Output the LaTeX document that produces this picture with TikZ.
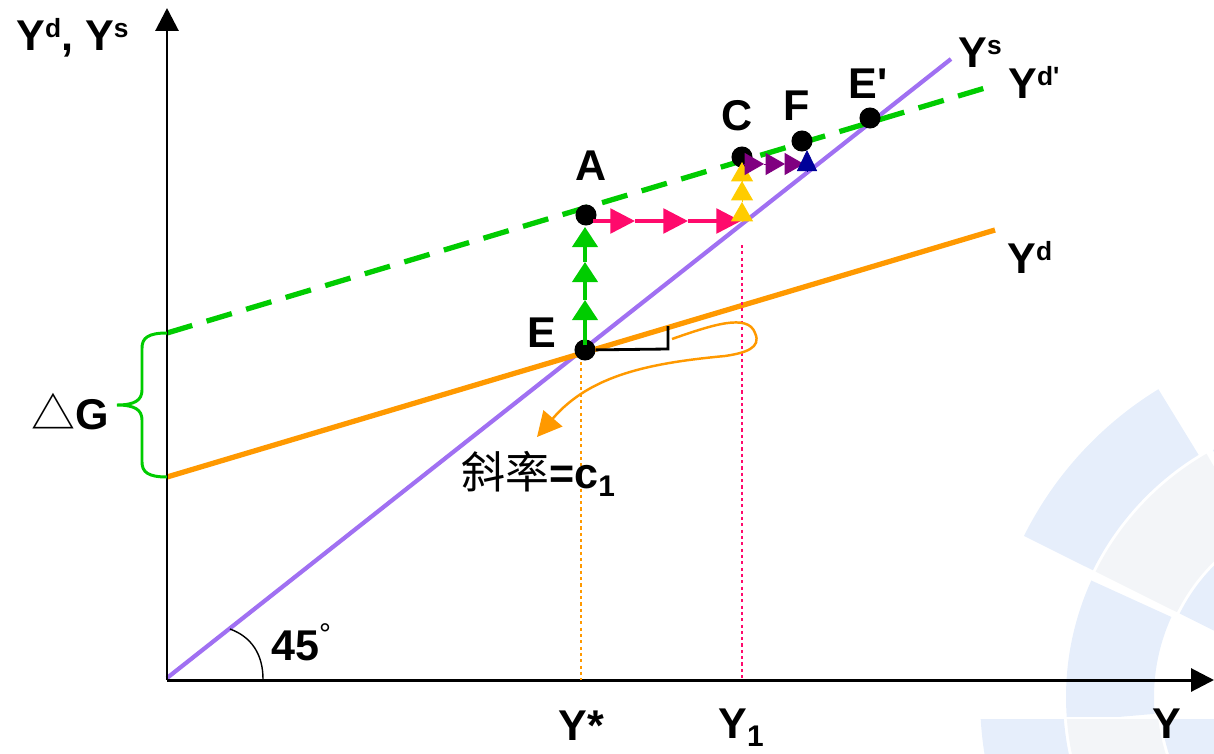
\documentclass[tikz,border=0pt]{standalone}
\usepackage{fontspec}
\setmainfont{Liberation Sans}
\newfontfamily\cjk{Noto Sans CJK TC}
\usetikzlibrary{arrows.meta,calc}
\definecolor{wmblue}{HTML}{E6EEFB}
\definecolor{wmgray}{HTML}{F3F5F8}
\definecolor{yscol}{HTML}{A070F2}
\definecolor{ydcol}{HTML}{FF9900}
\definecolor{gcol}{HTML}{00CC00}
\definecolor{pinkc}{HTML}{FF0A6C}
\definecolor{yellc}{HTML}{FFCC00}
\definecolor{purpc}{HTML}{800080}
\definecolor{bluec}{HTML}{000099}
\newcommand{\upx}[1]{\raisebox{7pt}{\fontsize{15}{15}\selectfont #1}}
\newcommand{\dnx}[1]{\raisebox{-5pt}{\fontsize{17}{17}\selectfont #1}}
\newcommand{\wmsector}[5]{% color, r1, r2, a1, a2
  \fill[#1] plot[domain=#4:#5,samples=40] ({1347+#3*cos(\x)},{697+#3*sin(\x)})
   -- plot[domain=#5:#4,samples=40] ({1347+#2*cos(\x)},{697+#2*sin(\x)}) -- cycle;}
\begin{document}
\begin{tikzpicture}[x=0.02cm,y=-0.02cm,
  lab/.style={font=\fontsize{24.5}{26}\selectfont\bfseries, inner sep=0pt},
  dot/.style={circle,fill=black,inner sep=0pt,minimum size=12pt},
  axisline/.style={line width=1.7pt,-{Triangle[length=13pt,width=13pt]}},
  garr/.style={gcol,line width=2pt,-{Triangle[length=11.5pt,width=14.5pt]}},
  parr/.style={pinkc,line width=2pt,-{Triangle[length=14pt,width=14pt]}},
  yarr/.style={yellc,line width=0.5pt,-{Triangle[length=11pt,width=12.5pt]}},
  marr/.style={purpc,line width=0.5pt,-{Triangle[length=11pt,width=12.5pt]}},
  barr/.style={bluec,line width=0.5pt,-{Triangle[length=12pt,width=11.5pt]}},
]
\useasboundingbox (0,0) rectangle (1214,754);
% watermark
\begin{scope}
  \clip (850,300) rectangle (1214,716);
  \wmsector{wmblue}{284}{361}{-153.5}{-121.5}
  \wmsector{wmgray}{190}{281}{-153.5}{-120}
  \wmsector{wmblue}{190}{281}{-118.5}{-95}
  \wmsector{wmblue}{110}{187}{-153.5}{-100}
  \wmsector{wmblue}{193}{281}{-185}{-155.5}
\end{scope}
\begin{scope}
  \clip (850,719) rectangle (1214,754);
  \wmsector{wmblue}{284}{367}{150}{179}
  \wmsector{wmgray}{190}{281}{150}{179}
  \wmsector{wmblue}{100}{187}{150}{179}
\end{scope}
% key points
\coordinate (O) at (167,680);
\coordinate (Ytop) at (167,8);
\coordinate (Xend) at (1214,680);
\coordinate (YsA) at (167,678);
\coordinate (YsB) at (951,59);
\coordinate (YdA) at (167,477);
\coordinate (YdB) at (995,230);
\coordinate (YdpA) at (167,333);
\coordinate (YdpB) at (985,88);
% lines
\draw[yscol,line width=2.4pt] (YsA) -- (YsB);
\draw[ydcol,line width=3pt] (YdA) -- (YdB);
\draw[gcol,line width=3pt,dash pattern=on 15pt off 8.5pt] (YdpA) -- (YdpB);
% axes
\draw[axisline] (O) -- (Ytop);
\draw[axisline] (O) -- (Xend);
% dots
\node[dot] (E) at (585,350) {};
\node[dot] (A) at (586,215) {};
\node[dot] (C) at (742,157) {};
\node[dot] (F) at (802,141) {};
\node[dot] (Ep) at (870,118) {};
% dotted verticals
\coordinate (Ystar) at (581,680);
\coordinate (Yone) at (742,680);
\coordinate (Yonetop) at (742,245);
\draw[ydcol,line width=1.5pt,dash pattern=on 1.8pt off 1.8pt] ($(E)+(-4,12)$) -- (Ystar);
\draw[pinkc,line width=1.5pt,dash pattern=on 1.8pt off 1.8pt] (Yonetop) -- (Yone);
% right-angle mark
\coordinate (R1) at (668,349);
\coordinate (R2) at (668,326);
\draw[black,line width=1.6pt] (E) -- (R1) -- (R2);
% orange loop arrow
\coordinate (L0) at (672,339);
\coordinate (L1) at (755,333);
\coordinate (L2) at (725,356);
\coordinate (Ltip) at (537,437);
\draw[ydcol,line width=1.4pt,-{Triangle[length=14pt,width=14pt]}]
  (L0) .. controls (712,325) and (748,313) .. (L1)
  .. controls (762,348) and (745,353) .. (L2)
  .. controls (650,363) and (590,375) .. (Ltip);
% green arrows E -> A
\coordinate (g0) at (585,345);
\coordinate (g1) at (585,300);
\coordinate (g2) at (585,262);
\coordinate (g3) at (585,227);
\draw[garr] (g0) -- (g1);
\draw[garr] (g1) -- (g2);
\draw[garr] (g2) -- (g3);
% pink arrows A -> right
\coordinate (p0) at (593,221);
\coordinate (p1) at (635,221);
\coordinate (p2) at (688,221);
\coordinate (p3) at (741,221);
\draw[parr] (p0) -- (p1);
\draw[parr] (p1) -- (p2);
\draw[parr] (p2) -- (p3);
% yellow arrows up to C
\coordinate (y0) at (742,222);
\coordinate (y1) at (742,202);
\coordinate (y2) at (742,181);
\coordinate (y3) at (742,162);
\draw[yarr] (y0) -- (y1);
\draw[yarr] (y1) -- (y2);
\draw[yarr] (y2) -- (y3);
% purple arrows C -> F
\coordinate (m0) at (743,164);
\coordinate (m1) at (764,164);
\coordinate (m2) at (785,164);
\coordinate (m3) at (804,164);
\draw[marr] (m0) -- (m1);
\draw[marr] (m1) -- (m2);
\draw[marr] (m2) -- (m3);
% blue arrow
\coordinate (b0) at (807,172);
\coordinate (b1) at (807,150);
\draw[barr] (b0) -- (b1);
% brace
\draw[gcol,line width=1.7pt]
  (YdpA) .. controls (148,333) and (142,338) .. (142,348) -- (142,390)
  .. controls (142,400) and (135,405) .. (117,405)
  .. controls (135,405) and (142,410) .. (142,420) -- (142,462)
  .. controls (142,472) and (148,477) .. (YdA);
% 45 degree arc
\coordinate (arcA) at (230,629);
\coordinate (arcB) at (263,679);
\draw[black,line width=0.8pt] (arcA) .. controls (252,637) and (263,655) .. (arcB);
% labels
\node[lab,anchor=base] (lA) at (591,180) {A};
\node[lab,anchor=base] (lC) at (737,130) {C};
\node[lab,anchor=base] (lF) at (797,120) {F};
\node[lab,anchor=base west] (lEp) at (848,98) {E\textquotesingle};
\node[lab,anchor=base] (lE) at (542,347) {E};
\node[lab,anchor=base west] (lYs) at (958,67) {Y\upx{s}};
\node[lab,anchor=base west] (lYdp) at (1008,98) {Y\upx{d\textquotesingle}};
\node[lab,anchor=base west] (lYd) at (1007,273) {Y\upx{d}};
\node[lab,anchor=base west] (lYY) at (16,50) {Y\upx{d}, Y\upx{s}};
\node[lab,anchor=base west] (lG) at (31,429) {{\cjk\mdseries\fontsize{25}{25}\selectfont △}G};
\node[lab,anchor=base west] (lslope) at (461,488) {{\cjk\mdseries\fontsize{25}{25}\selectfont 斜率}=c\dnx{1}};
\node[lab,anchor=base west] (l45) at (271,660) {45\raisebox{9pt}{\mdseries\fontsize{17}{17}\selectfont °}};
\node[lab,anchor=base west] (lYstar) at (558,740) {Y*};
\node[lab,anchor=base west] (lY1) at (718,738) {Y\dnx{1}};
\node[lab,anchor=base west] (lY) at (1152,738) {Y};
\end{tikzpicture}
\end{document}
